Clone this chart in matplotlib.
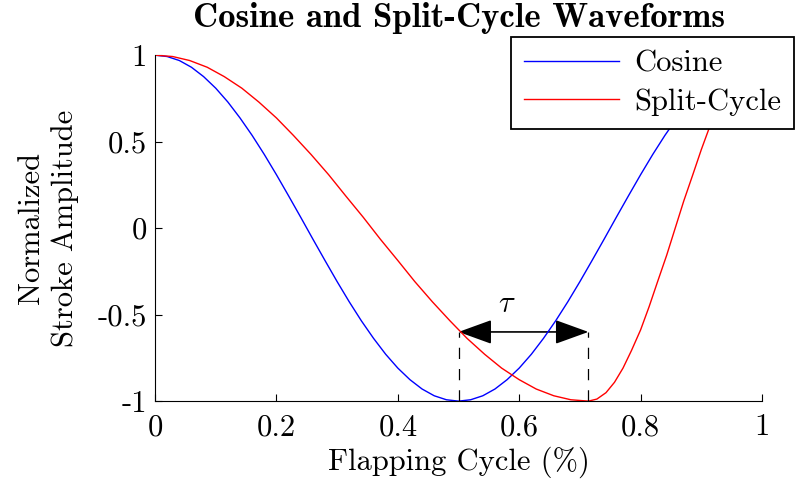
# cosine vs split-cycle stroke waveforms
import matplotlib
matplotlib.use("Agg")
import matplotlib.pyplot as plt
from matplotlib.patches import FancyArrowPatch

plt.rcParams['font.family'] = 'cmr10'
plt.rcParams['mathtext.fontset'] = 'cm'
plt.rcParams['axes.unicode_minus'] = False
plt.rcParams['axes.formatter.use_mathtext'] = True

# cosine waveform, every 0.02 of the cycle
cos_t = [0.00, 0.02, 0.04, 0.06, 0.08, 0.10, 0.12, 0.14, 0.16, 0.18,
         0.20, 0.22, 0.24, 0.26, 0.28, 0.30, 0.32, 0.34, 0.36, 0.38,
         0.40, 0.42, 0.44, 0.46, 0.48, 0.50, 0.52, 0.54, 0.56, 0.58,
         0.60, 0.62, 0.64, 0.66, 0.68, 0.70, 0.72, 0.74, 0.76, 0.78,
         0.80, 0.82, 0.84, 0.86, 0.88, 0.90, 0.92, 0.94, 0.96, 0.98, 1.00]
cos_y = [1.000, 0.992, 0.969, 0.930, 0.876, 0.809, 0.729, 0.637, 0.536, 0.426,
         0.309, 0.187, 0.063, -0.063, -0.187, -0.309, -0.426, -0.536, -0.637, -0.729,
         -0.809, -0.876, -0.930, -0.969, -0.992, -1.000, -0.992, -0.969, -0.930, -0.876,
         -0.809, -0.729, -0.637, -0.536, -0.426, -0.309, -0.187, -0.063, 0.063, 0.187,
         0.309, 0.426, 0.536, 0.637, 0.729, 0.809, 0.876, 0.930, 0.969, 0.992, 1.000]

# split-cycle waveform: slow downstroke to 0.714, fast upstroke after
split_t = [0.000, 0.029, 0.057, 0.086, 0.114, 0.143, 0.171, 0.200, 0.228, 0.257,
           0.286, 0.314, 0.343, 0.371, 0.400, 0.428, 0.457, 0.486, 0.514, 0.543,
           0.571, 0.600, 0.628, 0.657, 0.685, 0.714,
           0.728, 0.743, 0.757, 0.771, 0.785, 0.800, 0.814, 0.828, 0.843, 0.857,
           0.871, 0.886, 0.900, 0.914, 0.928, 0.943, 0.957, 0.971, 0.986, 1.000]
split_y = [1.000, 0.992, 0.969, 0.930, 0.876, 0.809, 0.729, 0.637, 0.536, 0.426,
           0.309, 0.187, 0.063, -0.063, -0.187, -0.309, -0.426, -0.536, -0.637, -0.729,
           -0.809, -0.876, -0.930, -0.969, -0.992, -1.000,
           -0.988, -0.951, -0.891, -0.809, -0.707, -0.588, -0.454, -0.309, -0.156, 0.000,
           0.156, 0.309, 0.454, 0.588, 0.707, 0.809, 0.891, 0.951, 0.988, 1.000]

tau_start = 0.5    # cosine minimum
tau_end = 0.714    # split-cycle minimum
tau_level = -0.6

xticks = [0, 0.2, 0.4, 0.6, 0.8, 1]
xtick_labels = ['0', '0.2', '0.4', '0.6', '0.8', '1']
yticks = [-1, -0.5, 0, 0.5, 1]
ytick_labels = ['-1', '-0.5', '0', '0.5', '1']

fig = plt.figure(figsize=(7.95, 4.88), dpi=100)
ax = fig.add_axes([0.195, 0.178, 0.7635, 0.709])

ax.plot(cos_t, cos_y, color=(0, 0, 1), lw=1.0, label='Cosine')
ax.plot(split_t, split_y, color=(1, 0, 0), lw=1.0, label='Split-Cycle')

# dashed markers and tau arrow
for xv in [tau_start, tau_end]:
    ax.plot([xv, xv], [-1, tau_level], color='k', lw=0.9, dashes=(9, 8))
arr = FancyArrowPatch((tau_start, tau_level), (tau_end, tau_level),
                      arrowstyle='<|-|>,head_length=1.05,head_width=0.38',
                      mutation_scale=20, color='k', lw=1.2,
                      shrinkA=0, shrinkB=0)
ax.add_patch(arr)
ax.text(0.58, tau_level + 0.16, r'$\tau$',
        fontsize=22, ha='center', va='center')

ax.set_xlim(0, 1)
ax.set_ylim(-1, 1)
ax.set_xticks(xticks)
ax.set_xticklabels(xtick_labels)
ax.set_yticks(yticks)
ax.set_yticklabels(ytick_labels)
ax.tick_params(direction='in', length=5, width=0.8, labelsize=22)
ax.tick_params(axis='x', pad=9)
ax.tick_params(axis='y', pad=6)
ax.spines['top'].set_visible(False)
ax.spines['right'].set_visible(False)

ax.set_xlabel('Flapping Cycle (%)', fontsize=22)
ax.xaxis.set_label_coords(0.5, -0.13)
ax.set_ylabel('Normalized\nStroke Amplitude', fontsize=22, linespacing=1.3)
ax.yaxis.set_label_coords(-0.125, 0.5)
ax.set_title('Cosine and Split-Cycle Waveforms', fontsize=25,
             fontfamily='cmb10', pad=20)

leg = fig.legend(loc='upper left', bbox_to_anchor=(511 / 795, 1 - 37 / 488),
                 fontsize=22, frameon=True, fancybox=False, framealpha=1,
                 edgecolor='k', handlelength=3.1, handletextpad=0.5,
                 borderpad=0.42, labelspacing=0.36, borderaxespad=0)
leg.get_frame().set_linewidth(1.3)

fig.savefig('out.png', dpi=100)
